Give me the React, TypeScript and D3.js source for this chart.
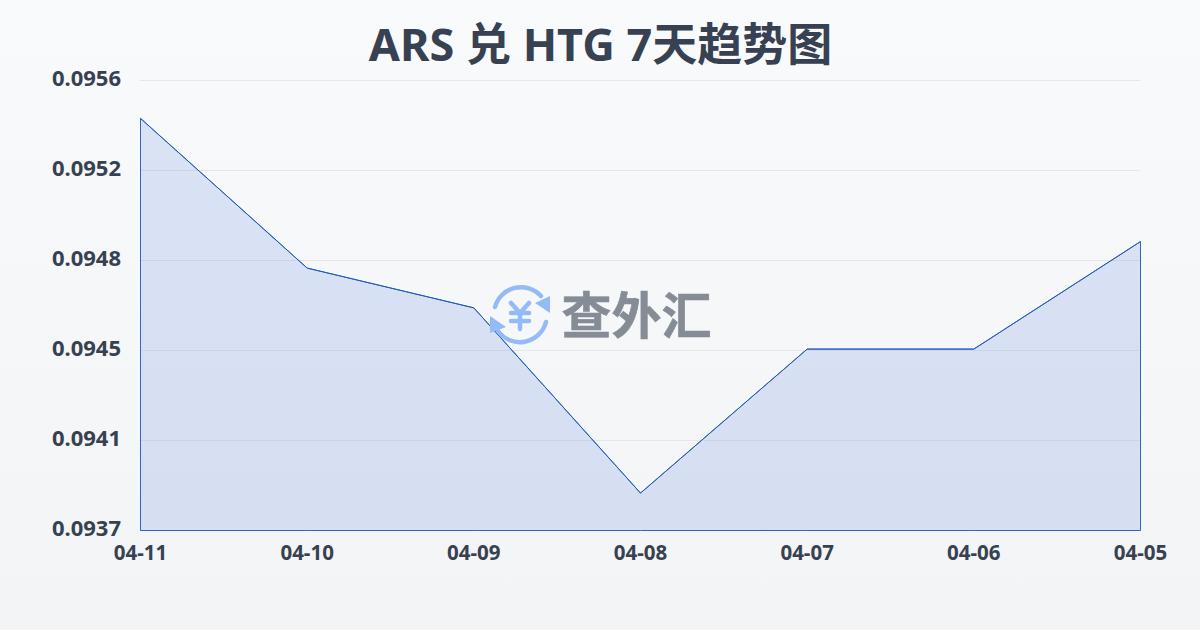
import React from "react";
import * as d3 from "d3";

const dates = ["04-11", "04-10", "04-09", "04-08", "04-07", "04-06", "04-05"];
const rates = [0.09544, 0.094808, 0.09464, 0.093858, 0.094466, 0.094466, 0.09492];
const yTicks = [0.0937, 0.09408, 0.09446, 0.09484, 0.09522, 0.0956];
const titleText = "ARS 兑 HTG 7天趋势图";
const watermarkText = "查外汇";

const W = 1200, H = 630;
const font = "'Noto Sans','Noto Sans CJK SC',sans-serif";
const ink = "#374151";

export default function App() {
  const x = d3.scalePoint<string>().domain(dates).range([140.5, 1140.5]);
  const y = d3.scaleLinear().domain([0.0937, 0.0956]).range([530.5, 80.5]);
  const fmt = d3.format(".4f");
  const line = d3.line<number>().x((_, i) => x(dates[i])!).y((d) => y(d));
  const area = d3.area<number>().x((_, i) => x(dates[i])!).y0(y(0.0937)).y1((d) => y(d));
  return (
    <svg width={W} height={H} viewBox={`0 0 ${W} ${H}`} style={{ position: "absolute", left: 0, top: 0, display: "block" }}>
      <defs>
        <linearGradient id="bg" x1="0" y1="0" x2="0" y2="1">
          <stop offset="0" stopColor="#f9fafb" />
          <stop offset="1" stopColor="#f3f4f6" />
        </linearGradient>
      </defs>
      <rect width={W} height={H} fill="url(#bg)" />
      <text x={600.5} y={61} textAnchor="middle" fontFamily={font} fontWeight={700} fontSize={45} fill={ink}>{titleText}</text>
      {yTicks.map((t) => (
        <line key={t} x1={140} x2={1140} y1={y(t)} y2={y(t)} stroke="#e5e7eb" strokeWidth={1} />
      ))}
      <path d={area(rates)!} fill="#2d62d8" fillOpacity={0.15} />
      <path d={area(rates)!} fill="none" stroke="#1e56b8" strokeOpacity={0.9} strokeWidth={1} />
      <path d={line(rates)!} fill="none" stroke="#1e56b8" strokeOpacity={0.9} strokeWidth={1} />
      {yTicks.map((t) => (
        <text key={t} x={121} y={y(t) + 5.5} textAnchor="end" fontFamily={font} fontWeight={700} fontSize={22} fill={ink}>{fmt(t)}</text>
      ))}
      {dates.map((d) => (
        <text key={d} x={x(d)!} y={560} textAnchor="middle" fontFamily={font} fontWeight={700} fontSize={20.5} fill={ink}>{d}</text>
      ))}
      <g fill="none" stroke="#93bbf8" strokeWidth={4.5} strokeLinecap="round">
        <path d="M 495 307 A 27 27 0 0 1 541 296" />
        <path d="M 546 322 A 27 27 0 0 1 498 331" />
        <path d="M 511 303 L 520 313 L 529 303 M 511 313 H 529 M 511 321 H 529 M 520 313 V 329" />
      </g>
      <path d="M 550 296 L 550 313 L 535 303 Z" fill="#93bbf8" />
      <path d="M 490 316 L 506 327 L 490 333 Z" fill="#93bbf8" />
      <text x={636.5} y={334} textAnchor="middle" fontFamily={font} fontWeight={700} fontSize={50} fill="#868c96" stroke="#868c96" strokeWidth={0.6}>{watermarkText}</text>
    </svg>
  );
}
